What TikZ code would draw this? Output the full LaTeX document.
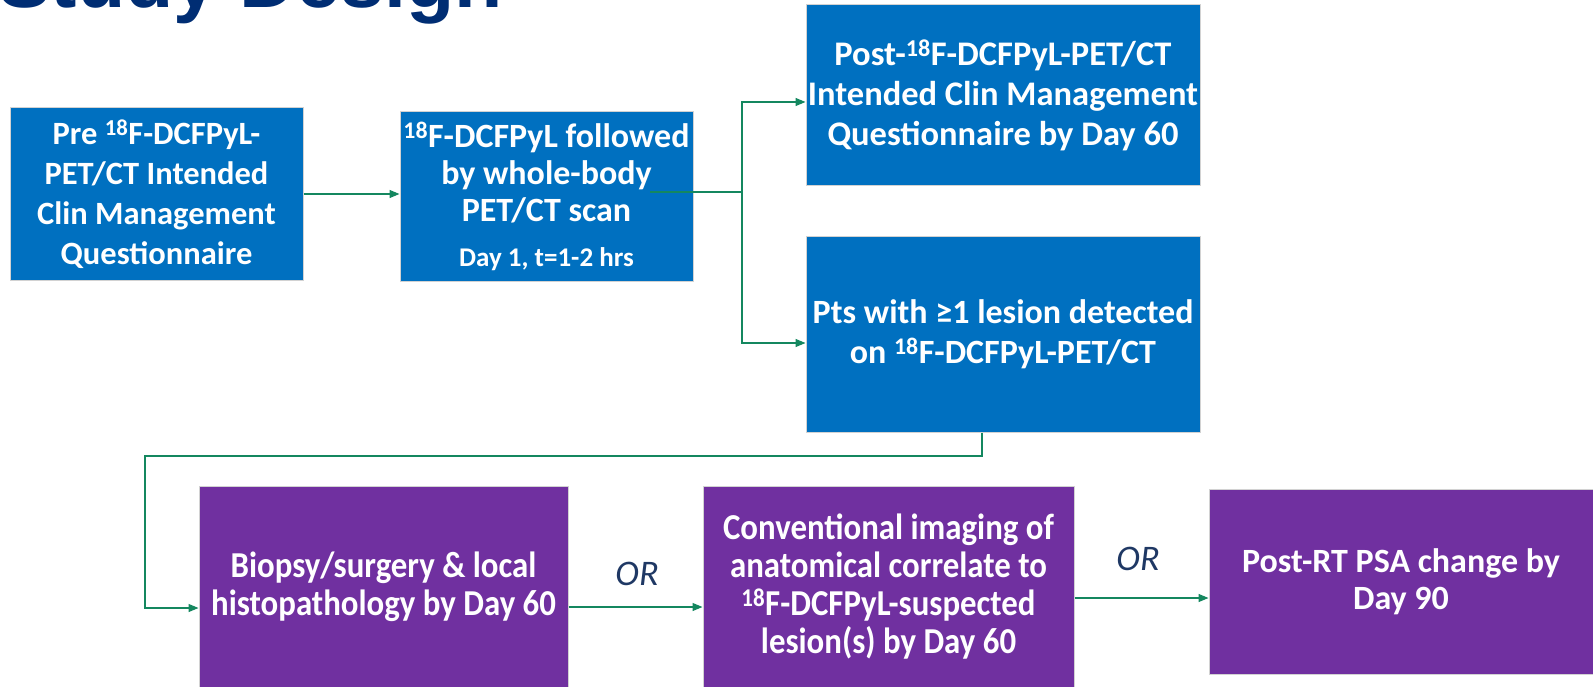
\documentclass[tikz,border=0pt]{standalone}
\usepackage{fontspec}
\setmainfont{Carlito}
\newfontfamily\titlefont{Liberation Sans}
\newfontfamily\narrowfont[FakeStretch=0.9]{Carlito}
\usetikzlibrary{arrows.meta, positioning, calc}
\definecolor{boxblue}{RGB}{0,112,192}
\definecolor{boxpurple}{RGB}{112,48,160}
\definecolor{arrowgreen}{RGB}{20,135,95}
\definecolor{titlenavy}{RGB}{0,45,115}
\definecolor{ornavy}{RGB}{31,56,100}

\begin{document}
\begin{tikzpicture}[x=1pt, y=-1pt,
    bluebox/.style={draw=gray!35, line width=1pt, fill=boxblue, text=white, font=\fontsize{34}{40}\selectfont\bfseries, align=center, inner sep=0pt},
    purplebox/.style={draw=gray!35, line width=1pt, fill=boxpurple, text=white, font=\narrowfont\fontsize{36.5}{38}\selectfont\bfseries, align=center, inner sep=0pt},
    flow/.style={arrowgreen, line width=1.2pt, -{Triangle[length=10pt, width=8pt]}},
    ortext/.style={text=ornavy, font=\fontsize{36}{40}\selectfont\itshape}]

    % Slide frame
    \clip (0,0) rectangle (1593,687);

    % Title (cut off at the top)
    \node[anchor=base west, inner sep=0pt, text=titlenavy, font=\titlefont\fontsize{79}{90}\selectfont\bfseries] (title) at (-2,8) {Study Design};

    % Upper row
    \node[bluebox, font=\fontsize{32.5}{40}\selectfont\bfseries, minimum width=293pt, minimum height=172pt] (pre) at (156.5,194) {Pre \textsuperscript{18}F-DCFPyL-\\PET/CT Intended\\Clin Management\\Questionnaire};
    \node[bluebox, font=\fontsize{34}{37}\selectfont\bfseries, minimum width=293pt, minimum height=169pt] (scan) at (546.5,196.5) {\textsuperscript{18}F-DCFPyL followed\\by whole-body\\PET/CT scan\\[8pt]{\fontsize{27}{30}\selectfont Day 1, t=1-2 hrs}};
    \node[bluebox, font=\fontsize{34.5}{40}\selectfont\bfseries, minimum width=394pt, minimum height=181pt] (post) at (1003,95.5) {Post-\textsuperscript{18}F-DCFPyL-PET/CT\\Intended Clin Management\\Questionnaire by Day 60};
    \node[bluebox, minimum width=394pt, minimum height=195pt] (pts) at (1003,334.5) {Pts with ≥1 lesion detected\\on \textsuperscript{18}F-DCFPyL-PET/CT};

    % Lower row
    \node[purplebox, minimum width=369pt, minimum height=201pt] (bio) at (383.5,586.5) {Biopsy/surgery \& local\\histopathology by Day 60};
    \node[purplebox, minimum width=371pt, minimum height=201pt] (conv) at (888.5,586.5) {Conventional imaging of\\anatomical correlate to\\\textsuperscript{18}F-DCFPyL-suspected\\lesion(s) by Day 60};
    \node[purplebox, font=\fontsize{34}{37}\selectfont\bfseries, minimum width=384pt, minimum height=185pt] (psa) at (1401,581.5) {Post-RT PSA change by\\Day 90};

    % OR labels
    \node[ortext] (or1) at (637,574) {OR};
    \node[ortext] (or2) at (1138,559) {OR};

    % Connectors
    \coordinate (scanline) at (650,192);
    \coordinate (split) at (742,192);
    \coordinate (turn) at (145,456);
    \draw[flow] (pre.east) -- (pre.east -| scan.west);
    \draw[arrowgreen, line width=1.2pt] (scanline) -- (split);
    \draw[flow] (split) |- ([yshift=-6.5pt]post.west);
    \draw[flow] (split) |- ([yshift=-8.5pt]pts.west);
    \draw[flow] ([xshift=-21pt]pts.south) |- (turn) |- ([yshift=-21.5pt]bio.west);
    \draw[flow] ([yshift=-20.5pt]bio.east) -- ([yshift=-20.5pt]bio.east -| conv.west);
    \draw[flow] ([yshift=-11.5pt]conv.east) -- ([yshift=-11.5pt]conv.east -| psa.west);
\end{tikzpicture}
\end{document}
